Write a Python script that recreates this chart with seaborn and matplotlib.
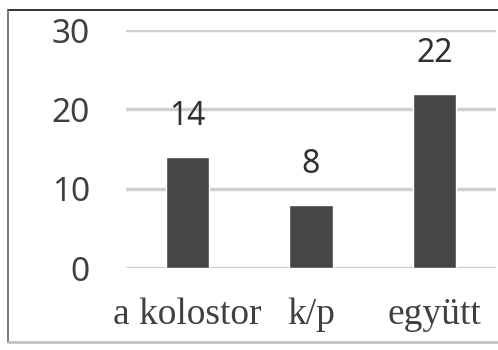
import numpy as np
import pandas as pd
import matplotlib.pyplot as plt
import seaborn as sns
from matplotlib.lines import Line2D

categories = ["a kolostor", "k/p", "együtt"]
values = [14, 8, 22]
yticks = [0, 10, 20, 30]

df = pd.DataFrame({"cat": categories, "val": values})

sns.set_style("white")
fig = plt.figure(figsize=(4.98, 3.5), dpi=100)
ax = fig.add_axes([0.253, 0.234, 0.743, 0.68])

sns.barplot(data=df, x="cat", y="val", color="#464646", saturation=1,
            width=0.35, ax=ax, zorder=3)

ax.set_ylim(0, 30)
ax.set_yticks(yticks)
ax.yaxis.grid(True, color="#d0d0d0", linewidth=2.5, zorder=0)
ax.set_axisbelow(True)
for s in ax.spines.values():
    s.set_visible(False)
ax.set_xlabel("")
ax.set_ylabel("")
ax.tick_params(axis="y", length=0, pad=26, labelsize=24, labelcolor="#404040")
ax.tick_params(axis="x", length=0, pad=21, labelsize=27, labelcolor="#404040")
for lab in ax.get_yticklabels():
    lab.set_family("Noto Sans")
for lab in ax.get_xticklabels():
    lab.set_family("Liberation Serif")

for i, v in enumerate(values):
    ax.annotate(str(v), (i, v), xytext=(0, 29), textcoords="offset points",
                ha="center", va="center", fontsize=23, color="#303030",
                family="Noto Sans")

# outer frame like the source figure
fig.add_artist(Line2D([8/498, 1], [1 - 10/350, 1 - 10/350], color="#111111", lw=1.2))
fig.add_artist(Line2D([8/498, 8/498], [1 - 10/350, 1 - 342/350], color="#666666", lw=1.2))
fig.add_artist(Line2D([8/498, 1], [1 - 342/350, 1 - 342/350], color="#bbbbbb", lw=1.8))

fig.savefig("out.png", dpi=100)
